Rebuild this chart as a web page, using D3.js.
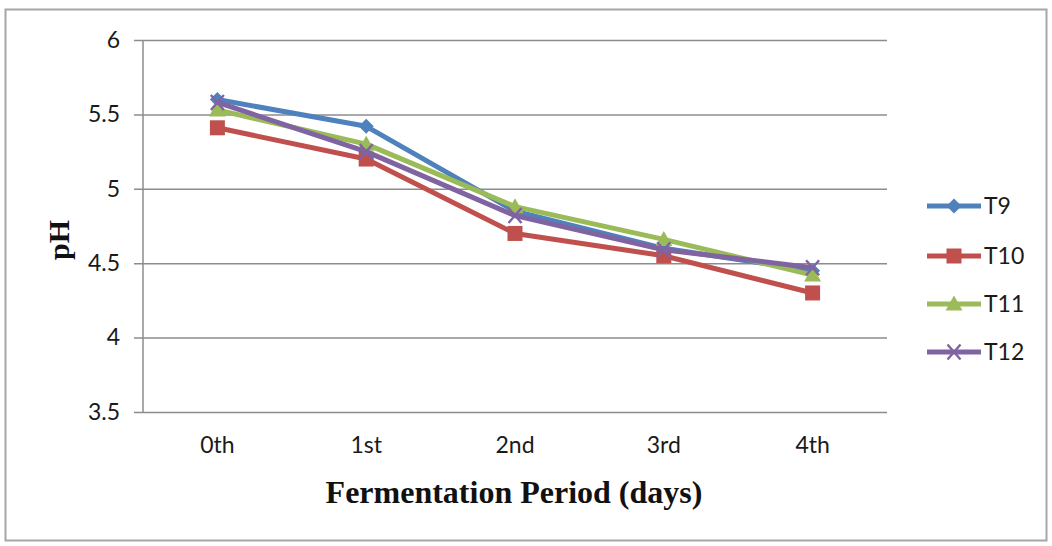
<!DOCTYPE html>
<html>
<head>
<meta charset="utf-8">
<script src="https://cdn.jsdelivr.net/npm/d3@7"></script>
<style>
  html, body { margin: 0; padding: 0; background: #fff; }
  svg { display: block; }
</style>
</head>
<body>
<script>
// pH of treatments over the fermentation period
const days = ["0th", "1st", "2nd", "3rd", "4th"];
const seriesNames = ["T9", "T10", "T11", "T12"];
const t9  = [5.60, 5.42, 4.85, 4.60, 4.45];
const t10 = [5.41, 5.20, 4.70, 4.55, 4.30];
const t11 = [5.53, 5.30, 4.88, 4.66, 4.42];
const t12 = [5.58, 5.25, 4.82, 4.59, 4.47];
const yTicks = [3.5, 4, 4.5, 5, 5.5, 6];

const colors = ["#4F81BD", "#C0504D", "#9BBB59", "#8064A2"];
const markers = ["diamond", "square", "triangle", "x"];
const series = [t9, t10, t11, t12].map((values, i) => ({
  name: seriesNames[i], values, color: colors[i], marker: markers[i]
}));

const W = 1052, H = 546;
const plot = { left: 143, right: 887, top: 40, bottom: 412 };

const svg = d3.select("body").append("svg")
  .attr("width", W).attr("height", H);

// outer chart frame
svg.append("rect")
  .attr("x", 5.5).attr("y", 9.5)
  .attr("width", 1041).attr("height", 531)
  .attr("fill", "#fff").attr("stroke", "#a6a6a6").attr("stroke-width", 2);

const x = d3.scaleBand().domain(days).range([plot.left, plot.right]);
const y = d3.scaleLinear().domain([3.5, 6]).range([plot.bottom, plot.top]);

const tickFont = "Lato, 'Open Sans', sans-serif";

// horizontal gridlines with left tick marks
const yAxis = d3.axisLeft(y).tickValues(yTicks)
  .tickSize(-(plot.right - plot.left)).tickSizeOuter(0).tickPadding(23)
  .tickFormat(d3.format("~g"));
const gy = svg.append("g").attr("transform", `translate(${plot.left},0)`).call(yAxis);
gy.select(".domain").remove();
gy.selectAll(".tick line")
  .attr("x1", -9)
  .attr("stroke", "#8c8c8c").attr("stroke-width", 1.5);
gy.selectAll(".tick text")
  .attr("font-family", tickFont).attr("font-size", 23).attr("fill", "#1a1a1a")
  .attr("dy", "0.32em");

// vertical axis line
svg.append("line")
  .attr("x1", plot.left).attr("x2", plot.left)
  .attr("y1", plot.top).attr("y2", plot.bottom)
  .attr("stroke", "#8c8c8c").attr("stroke-width", 1.5);

// category axis
const xAxis = d3.axisBottom(x).tickSize(0).tickPadding(25);
const gx = svg.append("g").attr("transform", `translate(0,${plot.bottom})`).call(xAxis);
gx.select(".domain").remove();
gx.selectAll(".tick text")
  .attr("font-family", tickFont).attr("font-size", 23).attr("fill", "#1a1a1a");

// axis titles
svg.append("text")
  .attr("x", 514).attr("y", 503)
  .attr("text-anchor", "middle")
  .attr("font-family", "'Liberation Serif', 'Times New Roman', serif")
  .attr("font-weight", "bold").attr("font-size", 32).attr("fill", "#111")
  .text("Fermentation Period (days)");

svg.append("text")
  .attr("transform", "translate(69,240) rotate(-90)")
  .attr("text-anchor", "middle")
  .attr("font-family", "'Liberation Serif', 'Times New Roman', serif")
  .attr("font-weight", "bold").attr("font-size", 30).attr("fill", "#111")
  .text("pH");

// marker drawing helper
function drawMarker(g, type, color) {
  if (type === "diamond") {
    g.append("path").attr("d", "M0,-7.5L7.5,0L0,7.5L-7.5,0Z").attr("fill", color);
  } else if (type === "square") {
    g.append("rect").attr("x", -7.5).attr("y", -7.5).attr("width", 15).attr("height", 15).attr("fill", color);
  } else if (type === "triangle") {
    g.append("path").attr("d", "M0,-8.5L8.5,6.5L-8.5,6.5Z").attr("fill", color);
  } else {
    g.append("path").attr("d", "M-6.5,-7.5L6.5,7.5M-6.5,7.5L6.5,-7.5")
      .attr("stroke", color).attr("stroke-width", 2.4).attr("fill", "none");
  }
}

const line = d3.line()
  .x((d, i) => x(days[i]) + x.bandwidth() / 2)
  .y(d => y(d));

series.forEach(s => {
  const g = svg.append("g");
  g.append("path")
    .datum(s.values)
    .attr("d", line)
    .attr("fill", "none")
    .attr("stroke", s.color)
    .attr("stroke-width", 5)
    .attr("stroke-linejoin", "round");
  s.values.forEach((v, i) => {
    const m = g.append("g")
      .attr("transform", `translate(${x(days[i]) + x.bandwidth() / 2},${y(v)})`);
    drawMarker(m, s.marker, s.color);
  });
});

// legend
const legendY = [206, 256, 304, 352];
series.forEach((s, i) => {
  const g = svg.append("g").attr("transform", `translate(927,${legendY[i]})`);
  g.append("line").attr("x1", 0).attr("x2", 54).attr("y1", 0).attr("y2", 0)
    .attr("stroke", s.color).attr("stroke-width", 5);
  drawMarker(g.append("g").attr("transform", "translate(27,0)"), s.marker, s.color);
  g.append("text")
    .attr("x", 57).attr("y", 0).attr("dy", "0.35em")
    .attr("font-family", tickFont).attr("font-size", 23).attr("fill", "#1a1a1a")
    .text(s.name);
});
</script>
</body>
</html>
